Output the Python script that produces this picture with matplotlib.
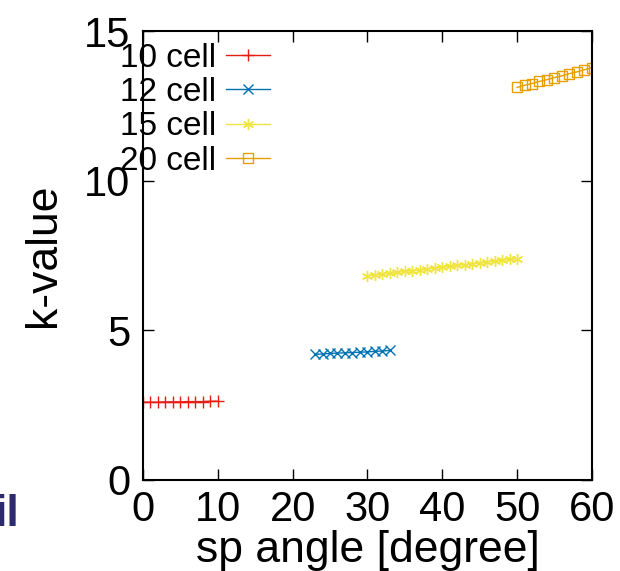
import numpy as np
import matplotlib.pyplot as plt

plt.rcParams['font.family'] = ['Liberation Sans', 'DejaVu Sans']

# data
x10 = list(range(0, 11))
k10 = [2.60, 2.60, 2.60, 2.61, 2.61, 2.61, 2.62, 2.62, 2.62, 2.63, 2.63]

x12 = list(range(23, 34))
k12 = [4.20, 4.21, 4.23, 4.24, 4.25, 4.26, 4.27, 4.28, 4.30, 4.31, 4.33]

x15 = list(range(30, 51))
k15 = [6.82, 6.85, 6.88, 6.91, 6.94, 6.97, 6.99, 7.02, 7.05, 7.08, 7.11,
       7.14, 7.17, 7.19, 7.22, 7.25, 7.28, 7.31, 7.34, 7.37, 7.40]

x20 = list(range(50, 61))
k20 = [13.12, 13.19, 13.25, 13.32, 13.38, 13.45, 13.51, 13.58, 13.64, 13.71, 13.78]

fig = plt.figure(figsize=(6.2, 5.71), dpi=100)
ax = fig.add_axes([0.2306, 0.1594, 0.724, 0.786])

ax.plot(x10, k10, color='#E51E10', marker='+', ms=9, lw=1, label='10 cell')
ax.plot(x12, k12, color='#0072B2', marker='x', ms=7, lw=1, label='12 cell')
ax.plot(x15, k15, color='#F0E442', marker=(6, 2, 0), ms=8, lw=1, label='15 cell')
ax.plot(x20, k20, color='#E69F00', marker='s', ms=7, mfc='none', lw=1, label='20 cell')

ax.set_xlim(0, 60)
ax.set_ylim(0, 15)
ax.set_xticks([0, 10, 20, 30, 40, 50, 60])
ax.set_yticks([0, 5, 10, 15])
ax.tick_params(direction='in', length=8, width=1, labelsize=30, top=True, right=True)
ax.tick_params(axis='x', pad=7)
ax.tick_params(axis='y', pad=9)
for s in ax.spines.values():
    s.set_linewidth(1.5)

ax.set_xlabel('sp angle [degree]', fontsize=32)
ax.set_ylabel('k-value', fontsize=32)
ax.xaxis.set_label_coords(0.5, -0.112)
ax.yaxis.set_label_coords(-0.176, 0.5)

ax.legend(loc='upper right', bbox_to_anchor=(0.29, 0.982), markerfirst=False,
          frameon=False, fontsize=24, handlelength=1.3, handletextpad=0.3,
          labelspacing=0.1, borderpad=0.1, borderaxespad=0)

fig.text(-0.008, 0.078, 'il', fontsize=32, fontweight='bold', color='#2E2A6E')

fig.savefig('out.png', dpi=100)
